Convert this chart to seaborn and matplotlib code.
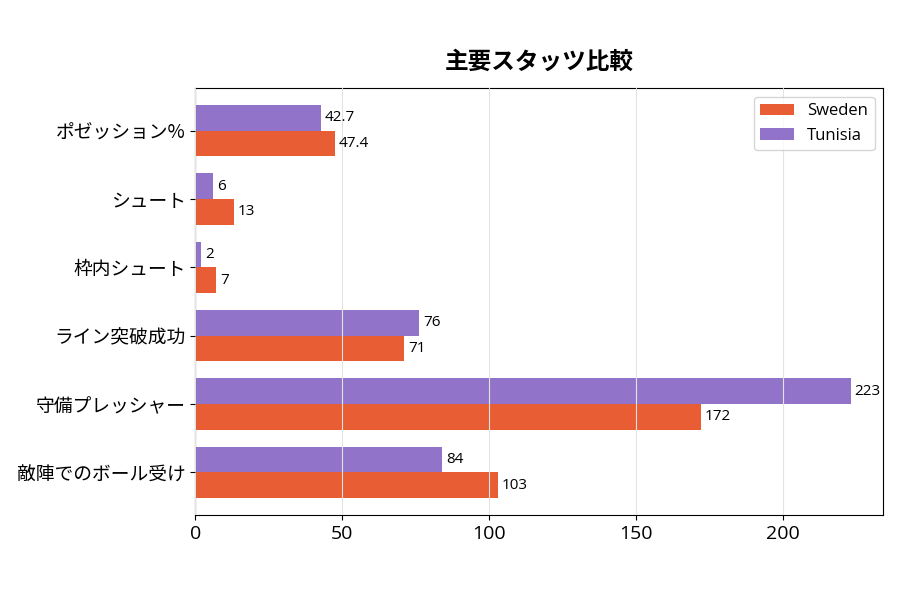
import matplotlib
matplotlib.use("Agg")
import matplotlib.pyplot as plt
import seaborn as sns
import pandas as pd

# --- data ---
categories = ["ポゼッション%", "シュート", "枠内シュート", "ライン突破成功", "守備プレッシャー", "敵陣でのボール受け"]
sweden = [47.4, 13, 7, 71, 172, 103]
tunisia = [42.7, 6, 2, 76, 223, 84]
teams = ["Sweden", "Tunisia"]
colors = {"Sweden": "#E8542A", "Tunisia": "#8C6BC8"}

sns.set_style("ticks", {"axes.edgecolor": "black", "text.color": "black",
                        "xtick.color": "black", "ytick.color": "black"})
plt.rcParams["font.family"] = ["Open Sans", "Noto Sans CJK JP", "DejaVu Sans"]

df = pd.DataFrame({
    "stat": categories * 2,
    "value": sweden + tunisia,
    "team": ["Sweden"] * len(categories) + ["Tunisia"] * len(categories),
})

fig, ax = plt.subplots(figsize=(9, 6), dpi=100)
sns.barplot(
    data=df, y="stat", x="value", hue="team", order=categories,
    hue_order=["Tunisia", "Sweden"], palette=colors, width=0.75,
    saturation=1, linewidth=0, orient="h", alpha=0.95, ax=ax, zorder=2,
)

# value labels next to each bar
for cont in ax.containers:
    labels = [f"{v:g}" for v in cont.datavalues]
    ax.bar_label(cont, labels=labels, padding=3, fontsize=11, color="black")

ax.set_xlim(0, 234)
ax.set_ylim(5.62, -0.62)
ax.xaxis.grid(True, color="#e3e3e3", linewidth=0.8, zorder=3)
ax.set_axisbelow(False)
for sp in ["top", "right"]:
    ax.spines[sp].set_visible(True)

ax.set_xlabel("")
ax.set_ylabel("")
ax.set_title("主要スタッツ比較", fontsize=17, fontweight="bold", pad=14,
             color="black", family=["Noto Sans CJK JP", "DejaVu Sans"])
for lbl in ax.get_yticklabels():
    lbl.set_fontfamily(["Noto Sans CJK JP", "DejaVu Sans"])
ax.tick_params(axis="y", labelsize=13.5, labelcolor="black")
ax.tick_params(axis="x", labelsize=14, labelcolor="black")

handles, labels = ax.get_legend_handles_labels()
order = [labels.index(t) for t in teams]
ax.legend([handles[i] for i in order], teams, loc="upper right", fontsize=12)

fig.subplots_adjust(left=0.217, right=0.981, top=0.853, bottom=0.142)
fig.savefig("out.png", dpi=100)
